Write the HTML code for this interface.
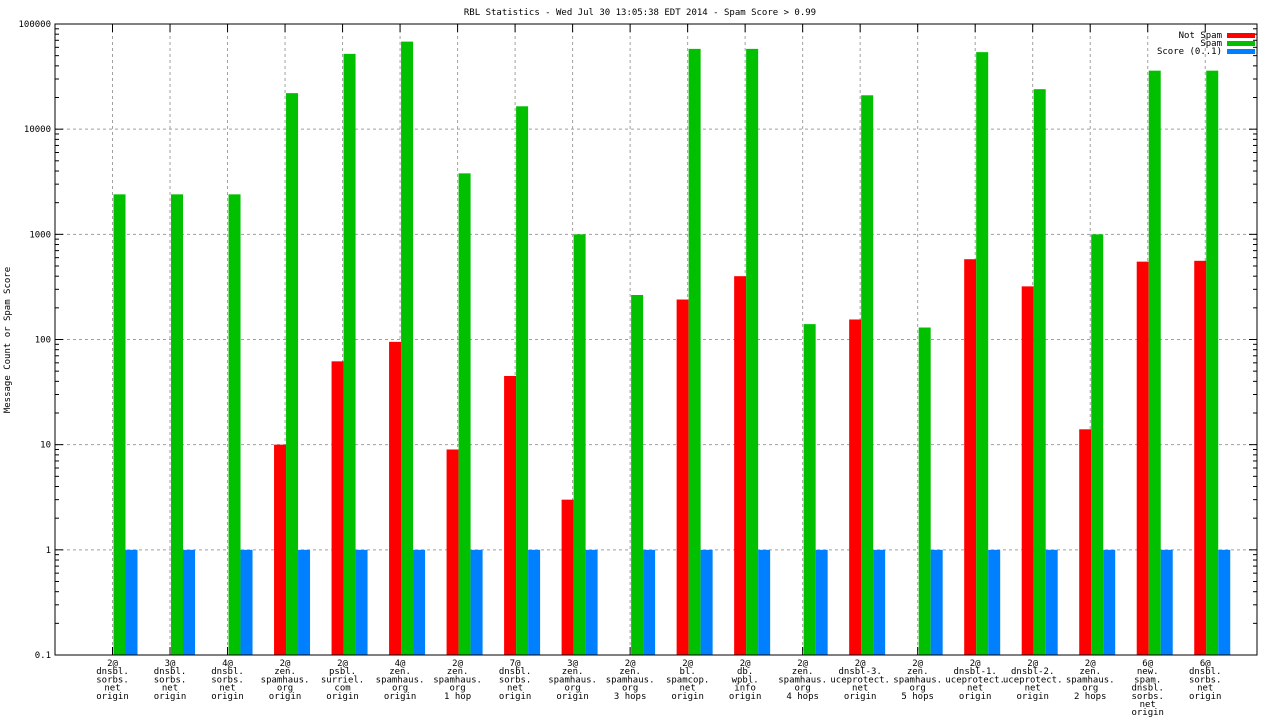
<!DOCTYPE html>
<html><head><meta charset="utf-8"><style>
body{margin:0;background:#fff}
svg text{font-family:"DejaVu Sans Mono","Liberation Mono",monospace;font-size:9px;fill:#000}
</style></head><body>
<svg id="c" width="1280" height="720" xmlns="http://www.w3.org/2000/svg"></svg>
<script>
const categories=[["2@","dnsbl.","sorbs.","net","origin"],["3@","dnsbl.","sorbs.","net","origin"],["4@","dnsbl.","sorbs.","net","origin"],["2@","zen.","spamhaus.","org","origin"],["2@","psbl.","surriel.","com","origin"],["4@","zen.","spamhaus.","org","origin"],["2@","zen.","spamhaus.","org","1 hop"],["7@","dnsbl.","sorbs.","net","origin"],["3@","zen.","spamhaus.","org","origin"],["2@","zen.","spamhaus.","org","3 hops"],["2@","bl.","spamcop.","net","origin"],["2@","db.","wpbl.","info","origin"],["2@","zen.","spamhaus.","org","4 hops"],["2@","dnsbl-3.","uceprotect.","net","origin"],["2@","zen.","spamhaus.","org","5 hops"],["2@","dnsbl-1.","uceprotect.","net","origin"],["2@","dnsbl-2.","uceprotect.","net","origin"],["2@","zen.","spamhaus.","org","2 hops"],["6@","new.","spam.","dnsbl.","sorbs.","net","origin"],["6@","dnsbl.","sorbs.","net","origin"]];
const notSpam=[0,0,0,10,62,95,9,45,3,0,240,400,0,155,0,580,320,14,550,560];
const spam=[2400,2400,2400,22000,52000,68000,3800,16500,1000,265,58000,58000,140,21000,130,54000,24000,1000,36000,36000];
const score=[1,1,1,1,1,1,1,1,1,1,1,1,1,1,1,1,1,1,1,1];
const yTicks=[0.1,1,10,100,1000,10000,100000];
const yTickLabels=["0.1","1","10","100","1000","10000","100000"];
const L=55,R=1257,T=24,B=655;
const sx=i=>L+(i+1)*(R-L)/20.9;
const sy=v=>B-(Math.log10(v)+1)/6*(B-T);
const svg=document.getElementById('c');const NS="http://www.w3.org/2000/svg";
function mk(t,a,p){const e=document.createElementNS(NS,t);for(const k in a)e.setAttribute(k,a[k]);(p||svg).appendChild(e);return e;}
let t=mk('text',{x:640,y:15,'text-anchor':'middle'});t.textContent="RBL Statistics - Wed Jul 30 13:05:38 EDT 2014 - Spam Score > 0.99";


t=mk('text',{x:10,y:340,'text-anchor':'middle',transform:'rotate(-90 10 340)'});t.textContent="Message Count or Spam Score";


yTicks.forEach((v,i)=>{const y=sy(v);
 if(i>0&&i<yTicks.length-1){mk('line',{x1:L,x2:R,y1:y,y2:y,stroke:'#a0a0a0','stroke-dasharray':'3,3'});}
 mk('line',{x1:L,x2:L+8,y1:y,y2:y,stroke:'#000'});mk('line',{x1:R-8,x2:R,y1:y,y2:y,stroke:'#000'});
 if(i<yTicks.length-1)for(let m=2;m<10;m++){const ym=sy(v*m);mk('line',{x1:L,x2:L+4,y1:ym,y2:ym,stroke:'#000'});mk('line',{x1:R-4,x2:R,y1:ym,y2:ym,stroke:'#000'});}
 const tl=mk('text',{x:L-4,y:y+3,'text-anchor':'end'});tl.textContent=yTickLabels[i];
 
 
});
categories.forEach((c,i)=>{const x=sx(i);
 mk('line',{x1:x,x2:x,y1:T,y2:B,stroke:'#a0a0a0','stroke-dasharray':'3,3'});
 mk('line',{x1:x,x2:x,y1:B-8,y2:B,stroke:'#000'});mk('line',{x1:x,x2:x,y1:T,y2:T+8,stroke:'#000'});
 const tx=mk('text',{'text-anchor':'middle'});
 
 
 c.forEach((s,j)=>{const ts=mk('tspan',{x:x,y:666+j*8.2},tx);ts.textContent=s;});
});
const series=[[notSpam,'#ff0000',-11,'bar-not-spam'],[spam,'#00c000',1,'bar-spam'],[score,'#0080ff',13,'bar-score']];
series.forEach(s=>{s[0].forEach((v,i)=>{if(v<=0)return;const y=sy(v);
 const r=mk('rect',{x:sx(i)+s[2],y:y,width:12,height:B-y,fill:s[1]});
 
 
});});
mk('rect',{x:L,y:T,width:R-L,height:B-T,fill:'none',stroke:'#000'});
const leg=[["Not Spam",'#ff0000'],["Spam",'#00c000'],["Score (0..1)",'#0080ff']];
leg.forEach((l,i)=>{const y=35+i*8;const g=mk('g',{});
 
 
 const lt=mk('text',{x:1222,y:y+3,'text-anchor':'end'},g);lt.textContent=l[0];
 mk('rect',{x:1227,y:y-2,width:28,height:5,fill:l[1]},g);});
</script>
</body></html>
